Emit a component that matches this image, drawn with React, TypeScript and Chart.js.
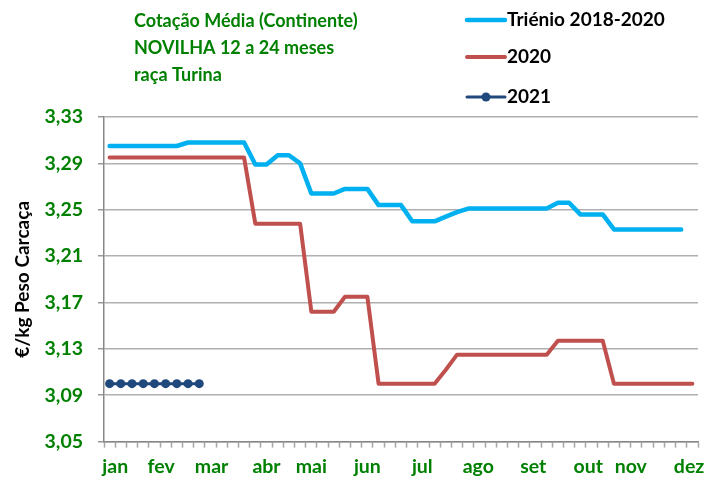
import React, { useEffect, useRef } from 'react';
import { Chart, registerables } from 'chart.js';

Chart.register(...registerables);

const TITLE_LINES = ['Cotação Média (Continente)', 'NOVILHA 12 a 24 meses', 'raça Turina'];
const SERIES_NAMES = ['Triénio 2018-2020', '2020', '2021'];
const Y_TITLE = '€/kg Peso Carcaça';

const N_WEEKS = 53;

const TRIENIO = [
  3.305, 3.305, 3.305, 3.305, 3.305, 3.305, 3.305,
  3.308, 3.308, 3.308, 3.308, 3.308, 3.308,
  3.289, 3.289,
  3.297, 3.297,
  3.29,
  3.264, 3.264, 3.264,
  3.268, 3.268, 3.268,
  3.254, 3.254, 3.254,
  3.24, 3.24, 3.24,
  3.244,
  3.248,
  3.251, 3.251, 3.251, 3.251, 3.251, 3.251, 3.251, 3.251,
  3.256, 3.256,
  3.246, 3.246, 3.246,
  3.233, 3.233, 3.233, 3.233, 3.233, 3.233, 3.233,
];

const Y2020 = [
  3.295, 3.295, 3.295, 3.295, 3.295, 3.295, 3.295, 3.295, 3.295, 3.295, 3.295, 3.295, 3.295,
  3.238, 3.238, 3.238, 3.238, 3.238,
  3.162, 3.162, 3.162,
  3.175, 3.175, 3.175,
  3.1, 3.1, 3.1, 3.1, 3.1, 3.1,
  3.112,
  3.125, 3.125, 3.125, 3.125, 3.125, 3.125, 3.125, 3.125, 3.125,
  3.137, 3.137, 3.137, 3.137, 3.137,
  3.1, 3.1, 3.1, 3.1, 3.1, 3.1, 3.1, 3.1,
];

const Y2021 = [3.1, 3.1, 3.1, 3.1, 3.1, 3.1, 3.1, 3.1, 3.1];

const MONTHS = ['jan', 'fev', 'mar', 'abr', 'mai', 'jun', 'jul', 'ago', 'set', 'out', 'nov', 'dez'];
const MONTH_POS = [0.5, 4.6, 9.1, 14.0, 18.0, 23.0, 27.9, 32.9, 37.8, 42.7, 46.5, 51.7];

const Y_TICKS = [3.05, 3.09, 3.13, 3.17, 3.21, 3.25, 3.29, 3.33];

const GREEN = '#008000';
const BLUE = '#00B0F0';
const RED = '#C0504D';
const NAVY = '#1F497D';
const FONT = 'Lato, "Open Sans", sans-serif';

const toPoints = (arr: number[]) => arr.map((y, i) => ({ x: i, y }));

const headerPlugin = {
  id: 'headerLegend',
  afterDraw(chart: any) {
    const ctx = chart.ctx as CanvasRenderingContext2D;
    ctx.save();
    ctx.textBaseline = 'middle';
    ctx.textAlign = 'left';
    ctx.font = `bold 18px ${FONT}`;
    ctx.fillStyle = GREEN;
    TITLE_LINES.forEach((t, i) => ctx.fillText(t, 126, 13 + i * 27));
    ctx.font = `bold 19px ${FONT}`;
    const legendY = [12, 49, 89];
    chart.data.datasets.forEach((ds: any, i: number) => {
      const y = legendY[i];
      ctx.strokeStyle = ds.borderColor;
      ctx.lineWidth = ds.borderWidth;
      ctx.lineCap = 'round';
      ctx.beginPath();
      ctx.moveTo(459, y);
      ctx.lineTo(497, y);
      ctx.stroke();
      if (ds.pointRadius > 0) {
        ctx.fillStyle = ds.pointBackgroundColor;
        ctx.beginPath();
        ctx.arc(478, y, ds.pointRadius, 0, Math.PI * 2);
        ctx.fill();
      }
      ctx.fillStyle = '#000';
      ctx.fillText(ds.label, 499, y);
    });
    ctx.restore();
  },
};

export default function App() {
  const ref = useRef<HTMLCanvasElement>(null);

  useEffect(() => {
    const chart = new Chart(ref.current as HTMLCanvasElement, {
      type: 'line',
      data: {
        datasets: [
          {
            label: SERIES_NAMES[0],
            data: toPoints(TRIENIO),
            borderColor: BLUE,
            backgroundColor: BLUE,
            borderWidth: 4.5,
            pointRadius: 0,
            borderJoinStyle: 'round',
            borderCapStyle: 'round',
            tension: 0,
          },
          {
            label: SERIES_NAMES[1],
            data: toPoints(Y2020),
            borderColor: RED,
            backgroundColor: RED,
            borderWidth: 4,
            pointRadius: 0,
            borderJoinStyle: 'round',
            borderCapStyle: 'round',
            tension: 0,
          },
          {
            label: SERIES_NAMES[2],
            data: toPoints(Y2021),
            borderColor: NAVY,
            backgroundColor: NAVY,
            pointBackgroundColor: NAVY,
            pointBorderColor: NAVY,
            borderWidth: 3,
            pointRadius: 4.5,
            pointBorderWidth: 0,
            tension: 0,
          },
        ],
      },
      options: {
        animation: false,
        responsive: true,
        maintainAspectRatio: false,
        layout: { padding: { top: 109, right: 18, bottom: 0, left: 0 } },
        plugins: {
          legend: { display: false },
          title: { display: false },
          tooltip: { enabled: false },
        },
        scales: {
          x: {
            type: 'linear',
            position: 'bottom',
            min: -0.5,
            max: N_WEEKS - 0.5,
            offset: false,
            afterBuildTicks: (scale: any) => {
              const t: { value: number }[] = [];
              for (let k = 0; k <= N_WEEKS; k++) t.push({ value: k - 0.5 });
              scale.ticks = t;
            },
            ticks: { display: false, autoSkip: false },
            grid: {
              display: true,
              drawOnChartArea: false,
              drawTicks: true,
              tickLength: 6,
              tickWidth: 1.5,
              tickColor: '#A6A6A6',
            },
            border: { display: true, color: '#888888', width: 1.5 },
          },
          xMonths: {
            type: 'linear',
            position: 'bottom',
            min: -0.5,
            max: N_WEEKS - 0.5,
            offset: false,
            afterBuildTicks: (scale: any) => {
              scale.ticks = MONTH_POS.map((v) => ({ value: v }));
            },
            ticks: {
              autoSkip: false,
              maxRotation: 0,
              minRotation: 0,
              padding: 7,
              color: GREEN,
              font: { family: FONT, size: 19.5, weight: 'bold' },
              callback: (value: any) => {
                const idx = MONTH_POS.findIndex((p) => Math.abs(p - Number(value)) < 1e-9);
                return idx >= 0 ? MONTHS[idx] : '';
              },
            },
            grid: { display: false, drawTicks: false, drawOnChartArea: false },
            border: { display: false },
          },
          y: {
            type: 'linear',
            min: 3.05,
            max: 3.33,
            afterBuildTicks: (scale: any) => {
              scale.ticks = Y_TICKS.map((v) => ({ value: v }));
            },
            afterFit: (scale: any) => {
              scale.width = 96;
            },
            ticks: {
              padding: 15,
              color: GREEN,
              font: { family: FONT, size: 19.5, weight: 'bold' },
              callback: (value: any) => Number(value).toFixed(2).replace('.', ','),
            },
            grid: {
              color: '#B0B0B0',
              lineWidth: 1.5,
              drawTicks: true,
              tickLength: 6,
              tickColor: '#999999',
            },
            border: { display: true, color: '#888888', width: 1.5 },
            title: {
              display: true,
              text: Y_TITLE,
              color: '#000',
              font: { family: FONT, size: 19, weight: 'bold' },
              padding: { top: 3, bottom: 0 },
            },
          },
        },
      },
      plugins: [headerPlugin],
    } as any);

    let alive = true;
    if ((document as any).fonts && (document as any).fonts.load) {
      (document as any).fonts.load(`bold 18px Lato`).then(() => {
        if (alive) chart.update();
      });
    }
    return () => {
      alive = false;
      chart.destroy();
    };
  }, []);

  return (
    <div style={{ position: 'relative', width: 708, height: 477 }}>
      <canvas ref={ref} />
    </div>
  );
}
